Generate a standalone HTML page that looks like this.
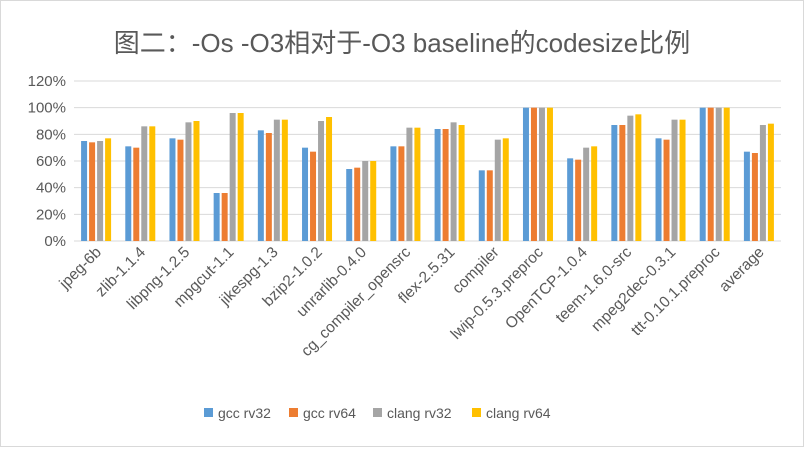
<!DOCTYPE html>
<html><head><meta charset="utf-8"><style>
body{margin:0;background:#fff}
svg text{font-family:"Liberation Sans","Noto Sans CJK SC",sans-serif;fill:#595959}
</style></head><body>
<svg width="804" height="447" xmlns="http://www.w3.org/2000/svg">
<rect x="0.5" y="0.5" width="803" height="446" fill="#fff" stroke="#d9d9d9"/>
<text x="402" y="52" text-anchor="middle" font-size="26">图二：-Os -O3相对于-O3 baseline的codesize比例</text>
<g id="grid"></g><g id="bars"></g><g id="xlabels"></g><g id="legend"></g>
</svg>
<script>
const categories=["jpeg-6b","zlib-1.1.4","libpng-1.2.5","mpgcut-1.1","jikespg-1.3","bzip2-1.0.2","unrarlib-0.4.0","cg_compiler_opensrc","flex-2.5.31","compiler","lwip-0.5.3.preproc","OpenTCP-1.0.4","teem-1.6.0-src","mpeg2dec-0.3.1","ttt-0.10.1.preproc","average"];
const gccRv32=[75,71,77,36,83,70,54,71,84,53,100,62,87,77,100,67];
const gccRv64=[74,70,76,36,81,67,55,71,84,53,100,61,87,76,100,66];
const clangRv32=[75,86,89,96,91,90,60,85,89,76,100,70,94,91,100,87];
const clangRv64=[77,86,90,96,91,93,60,85,87,77,100,71,95,91,100,88];
const seriesNames=["gcc rv32","gcc rv64","clang rv32","clang rv64"];
const ticks=[0,20,40,60,80,100,120];
const colors=["#5b9bd5","#ed7d31","#a5a5a5","#ffc000"];
const series=[gccRv32,gccRv64,clangRv32,clangRv64];
const NS="http://www.w3.org/2000/svg";
const x0=74,x1=781,yBase=241,yTop=81;
const y=v=>yBase-(v/120)*(yBase-yTop);
const bw=(x1-x0)/categories.length;
function mk(t,a,p){const e=document.createElementNS(NS,t);for(const k in a)e.setAttribute(k,a[k]);p.appendChild(e);return e;}
const G=document.getElementById('grid');
ticks.forEach(t=>{
 const l=mk('line',{x1:x0,x2:x1,y1:y(t),y2:y(t),stroke:'#d9d9d9','stroke-width':1},G);
 
 
 const tx=mk('text',{x:66,y:y(t)+5,'text-anchor':'end','font-size':15},G);tx.textContent=t+'%';
 
 
});
const B=document.getElementById('bars');
categories.forEach((c,i)=>{
 const cx=x0+bw*(i+0.5);
 series.forEach((s,j)=>{
  const bx=cx-15+j*8;
  const r=mk('rect',{x:bx,y:y(s[i]),width:6,height:yBase-y(s[i]),fill:colors[j]},B);
  
  
 });
 const t=mk('text',{x:cx+6,y:253,'text-anchor':'end','font-size':15.5,transform:`rotate(-45 ${cx+6} 253)`},document.getElementById('xlabels'));
 t.textContent=c;
 
 
});
const L=document.getElementById('legend');
const lx=[204,289,373,472];
seriesNames.forEach((n,j)=>{
 const r=mk('rect',{x:lx[j],y:408,width:9,height:9,fill:colors[j]},L);
 
 
 const t=mk('text',{x:lx[j]+14,y:418,'font-size':14},L);t.textContent=n;
 
 
});
</script>
</body></html>
